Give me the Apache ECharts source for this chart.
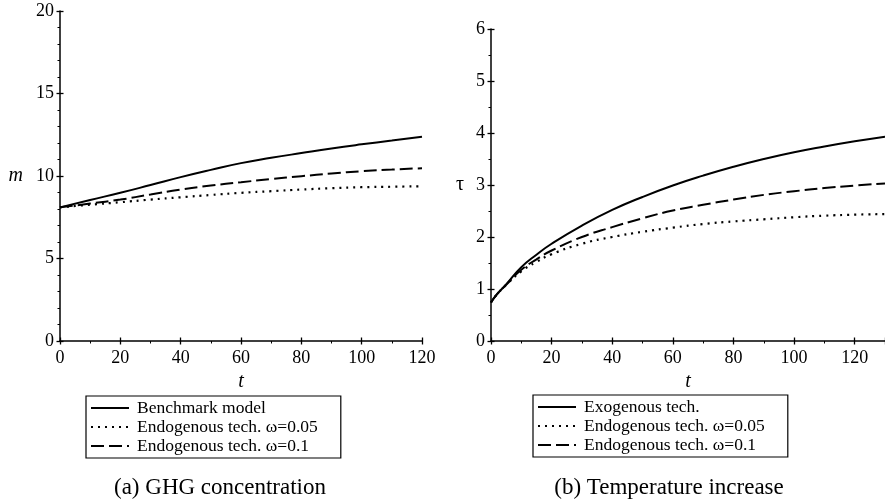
<!DOCTYPE html>
<html>
<head>
<meta charset="utf-8">
<script src="https://cdn.jsdelivr.net/npm/echarts@6/dist/echarts.min.js"></script>
<style>html,body{margin:0;padding:0;background:#fff}#c{width:885px;height:501px}</style>
</head>
<body>
<div id="c"></div>
<script>
// Panel (a): GHG concentration m
const tA = [0, 10, 20, 30, 40, 50, 60, 70, 80, 90, 100, 110, 120];
const mBenchmark = [8.1, 8.55, 8.98, 9.45, 9.93, 10.37, 10.78, 11.1, 11.39, 11.67, 11.92, 12.15, 12.38];
const mEndo005   = [8.1, 8.26, 8.41, 8.57, 8.71, 8.85, 8.98, 9.08, 9.18, 9.26, 9.32, 9.35, 9.38];
const mEndo01    = [8.1, 8.33, 8.57, 8.88, 9.18, 9.42, 9.62, 9.82, 9.99, 10.15, 10.29, 10.39, 10.47];

// Panel (b): Temperature increase tau
const tB = [0, 2, 5, 10, 15, 20, 30, 40, 50, 60, 70, 80, 90, 100, 110, 120, 130];
const tauExo     = [0.74, 0.9, 1.09, 1.42, 1.66, 1.87, 2.22, 2.52, 2.77, 2.99, 3.18, 3.35, 3.5, 3.63, 3.74, 3.84, 3.93];
const tauEndo005 = [0.74, 0.9, 1.08, 1.34, 1.52, 1.67, 1.87, 2.0, 2.1, 2.18, 2.25, 2.30, 2.34, 2.38, 2.41, 2.43, 2.44];
const tauEndo01  = [0.74, 0.9, 1.08, 1.37, 1.57, 1.74, 2.0, 2.19, 2.36, 2.51, 2.62, 2.72, 2.81, 2.88, 2.94, 2.99, 3.03];

const namesA = ['Benchmark model', 'Endogenous tech. ω=0.05', 'Endogenous tech. ω=0.1'];
const namesB = ['Exogenous tech.', 'Endogenous tech. ω=0.05', 'Endogenous tech. ω=0.1'];
const captions = ['(a) GHG concentration', '(b) Temperature increase'];

const SERIF = '"Liberation Serif", "DejaVu Serif", serif';
const pairs = (xs, ys) => xs.map((x, i) => [x, ys[i]]);
const styles = [
  { type: 'solid', width: 2 },
  { type: [2, 5], width: 2.2 },
  { type: [13, 5], width: 2 }
];

const chart = echarts.init(document.getElementById('c'), null, { renderer: 'canvas' });

function mk(name, xs, ys, idx, st) {
  return {
    name: name, type: 'line', xAxisIndex: idx, yAxisIndex: idx,
    data: pairs(xs, ys), smooth: true, showSymbol: false, symbol: 'none',
    lineStyle: Object.assign({ color: '#000' }, st), itemStyle: { color: '#000' },
    animation: false, z: 3
  };
}

// main axis (outside ticks + labels) and a twin axis (inside ticks only) so ticks cross the axis line
function axis(kind, grid, min, max, interval, minorSplit, extra, twin) {
  const base = {
    gridIndex: grid, type: 'value', min: min, max: max, interval: interval,
    position: kind === 'x' ? 'bottom' : 'left',
    axisLine: { show: !twin, onZero: false, lineStyle: { color: '#000', width: 1.5 } },
    axisTick: { show: true, inside: !!twin, length: 3.5, lineStyle: { color: '#000', width: 1.3 } },
    minorTick: { show: !twin, splitNumber: minorSplit, length: 2.5, lineStyle: { color: '#000', width: 1 } },
    splitLine: { show: false },
    axisLabel: { show: !twin, color: '#000', fontFamily: SERIF, fontSize: 18, margin: kind === 'x' ? 8 : 6 }
  };
  if (twin) return base;
  return Object.assign(base, extra || {});
}

const legendCommon = {
  orient: 'vertical',
  itemWidth: 38, itemHeight: 12, itemGap: 1,
  borderColor: '#000', borderWidth: 1.2, borderRadius: 0,
  padding: [3, 23, 3, 4],
  selectedMode: false,
  itemStyle: { color: 'rgba(0,0,0,0)', borderColor: 'rgba(0,0,0,0)', borderWidth: 0, opacity: 0 },
  textStyle: { color: '#000', fontFamily: SERIF, fontSize: 17.5, lineHeight: 17, padding: [0, 0, 0, 3] }
};

const nameStyleItalic = { color: '#000', fontFamily: SERIF, fontSize: 20, fontStyle: 'italic' };

const option = {
  backgroundColor: '#fff',
  animation: false,
  grid: [
    { left: 60, top: 11, width: 362, height: 330 },
    { left: 491, top: 29, width: 395, height: 312 }
  ],
  xAxis: [
    axis('x', 0, 0, 120, 20, 2, { name: 't', nameLocation: 'middle', nameGap: 30, nameTextStyle: nameStyleItalic }),
    axis('x', 1, 0, 130, 20, 2, { name: 't', nameLocation: 'middle', nameGap: 30, nameTextStyle: nameStyleItalic,
      axisLabel: { color: '#000', fontFamily: SERIF, fontSize: 18, margin: 8, showMaxLabel: false } }),
    axis('x', 0, 0, 120, 20, 2, null, true),
    axis('x', 1, 0, 130, 20, 2, null, true)
  ],
  yAxis: [
    axis('y', 0, 0, 20, 5, 5, { name: 'm', nameLocation: 'middle', nameRotate: 0, nameGap: 37,
      nameTextStyle: Object.assign({}, nameStyleItalic, { padding: [10, 0, 0, 0] }) }),
    axis('y', 1, 0, 6, 1, 2, { name: 'τ', nameLocation: 'middle', nameRotate: 0, nameGap: 27,
      nameTextStyle: { color: '#000', fontFamily: SERIF, fontSize: 20, padding: [10, 0, 0, 0] } }),
    axis('y', 0, 0, 20, 5, 5, null, true),
    axis('y', 1, 0, 6, 1, 2, null, true)
  ],
  legend: [
    Object.assign({}, legendCommon, { left: 86, top: 396, data: namesA }),
    Object.assign({}, legendCommon, { left: 533, top: 395, data: namesB })
  ],
  series: [
    mk(namesA[0], tA, mBenchmark, 0, styles[0]),
    mk(namesA[1], tA, mEndo005, 0, styles[1]),
    mk(namesA[2], tA, mEndo01, 0, styles[2]),
    mk(namesB[0], tB, tauExo, 1, styles[0]),
    mk(namesB[1], tB, tauEndo005, 1, styles[1]),
    mk(namesB[2], tB, tauEndo01, 1, styles[2])
  ],
  graphic: [
    { type: 'text', x: 220, y: 488, style: { text: captions[0], fill: '#000', font: '23px "Liberation Serif"', align: 'center', verticalAlign: 'middle', textAlign: 'center', textVerticalAlign: 'middle' } },
    { type: 'text', x: 669, y: 488, style: { text: captions[1], fill: '#000', font: '23px "Liberation Serif"', align: 'center', verticalAlign: 'middle', textAlign: 'center', textVerticalAlign: 'middle' } }
  ]
};
chart.setOption(option);
</script>
</body>
</html>
